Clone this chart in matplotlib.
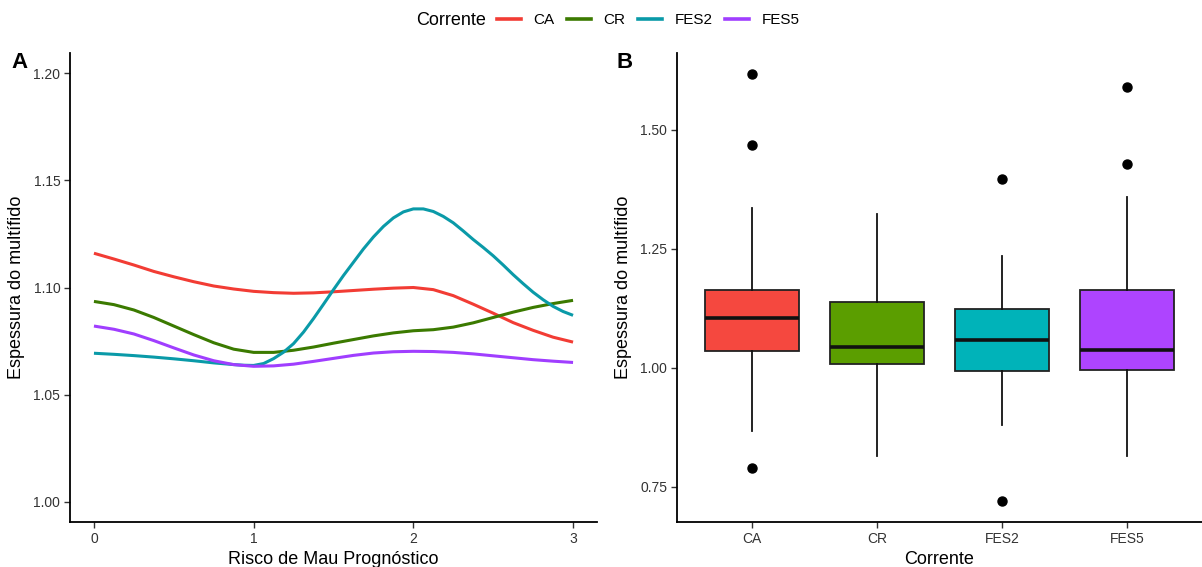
import numpy as np
import matplotlib
matplotlib.use("Agg")
import matplotlib.pyplot as plt
from matplotlib.lines import Line2D

plt.rcParams['font.family'] = ['Liberation Sans', 'DejaVu Sans']

# --- data ---
groups = ["CA", "CR", "FES2", "FES5"]
line_colors = ["#F23C34", "#3B7A00", "#0A9AA8", "#A03EFF"]
box_colors = ["#F5483F", "#5B9E00", "#00B3B9", "#AE44FF"]

risk = [0, 0.125, 0.25, 0.375, 0.5, 0.625, 0.75, 0.875, 1, 1.125, 1.25, 1.375, 1.5,
        1.625, 1.75, 1.875, 2, 2.125, 2.25, 2.375, 2.5, 2.625, 2.75, 2.875, 3]
ca_curve = [1.1160, 1.1133, 1.1105, 1.1075, 1.1050, 1.1027, 1.1007, 1.0993, 1.0982,
            1.0976, 1.0973, 1.0975, 1.0980, 1.0986, 1.0992, 1.0997, 1.1000, 1.0990,
            1.0962, 1.0922, 1.0880, 1.0836, 1.0800, 1.0768, 1.0745]
cr_curve = [1.0935, 1.0920, 1.0895, 1.0860, 1.0820, 1.0780, 1.0742, 1.0712, 1.0697,
            1.0697, 1.0707, 1.0722, 1.0740, 1.0757, 1.0774, 1.0788, 1.0798, 1.0803,
            1.0815, 1.0835, 1.0860, 1.0885, 1.0907, 1.0925, 1.0940]
fes5_curve = [1.0820, 1.0805, 1.0783, 1.0752, 1.0718, 1.0685, 1.0658, 1.0640, 1.0632,
              1.0634, 1.0642, 1.0655, 1.0669, 1.0683, 1.0694, 1.0700, 1.0702, 1.0701,
              1.0697, 1.0690, 1.0681, 1.0672, 1.0663, 1.0656, 1.0650]

# FES2 bends sharply, so it was read at a finer step
risk_fes2 = [0, 0.125, 0.25, 0.375, 0.5, 0.625, 0.75, 0.875, 0.9375, 1, 1.0625, 1.125,
             1.1875, 1.25, 1.3125, 1.375, 1.4375, 1.5, 1.5625, 1.625, 1.6875, 1.75,
             1.8125, 1.875, 1.9375, 2, 2.0625, 2.125, 2.1875, 2.25, 2.3125, 2.375,
             2.4375, 2.5, 2.5625, 2.625, 2.6875, 2.75, 2.8125, 2.875, 2.9375, 3]
fes2_curve = [1.0693, 1.0688, 1.0682, 1.0675, 1.0667, 1.0658, 1.0648, 1.0640, 1.0637,
              1.0636, 1.0645, 1.0668, 1.0698, 1.0738, 1.0792, 1.0855, 1.0922, 1.0990,
              1.1056, 1.1118, 1.1180, 1.1236, 1.1285, 1.1325, 1.1353, 1.1367, 1.1367,
              1.1355, 1.1332, 1.1302, 1.1264, 1.1224, 1.1187, 1.1148, 1.1105, 1.1060,
              1.1018, 1.0978, 1.0943, 1.0912, 1.0888, 1.0870]

xs = [risk, risk, risk_fes2, risk]
curves = [ca_curve, cr_curve, fes2_curve, fes5_curve]

# boxplot summaries
whislo = [0.867, 0.814, 0.879, 0.814]
q1 = [1.036, 1.008, 0.994, 0.996]
med = [1.104, 1.044, 1.059, 1.038]
q3 = [1.164, 1.139, 1.124, 1.164]
whishi = [1.335, 1.322, 1.235, 1.358]
outliers = [[1.616, 1.468, 0.789], [], [1.396, 0.720], [1.590, 1.427]]

W, H = 1202, 567
fig = plt.figure(figsize=(W / 100, H / 100), dpi=100)

tick_col = "#333333"

def style(ax):
      for s in ["top", "right"]:
            ax.spines[s].set_visible(False)
      for s in ["left", "bottom"]:
            ax.spines[s].set_linewidth(1.3)
            ax.spines[s].set_color("black")
      ax.tick_params(length=4, width=1.0, color="#333333", labelsize=10, labelcolor=tick_col, pad=3)

# panel A
axA = fig.add_axes([70 / W, 1 - 522 / H, 527 / W, 469 / H])
for x, c, col, g in zip(xs, curves, line_colors, groups):
      axA.plot(x, c, color=col, lw=2.2, label=g, solid_capstyle="butt", solid_joinstyle="round")
axA.set_xlim(-0.15, 3.15)
axA.set_ylim(0.9905, 1.2095)
axA.set_xticks([0, 1, 2, 3])
axA.set_yticks([1.00, 1.05, 1.10, 1.15, 1.20])
axA.set_yticklabels(["1.00", "1.05", "1.10", "1.15", "1.20"])
axA.set_xlabel("Risco de Mau Prognóstico", fontsize=13, labelpad=4)
axA.set_ylabel("Espessura do multífido", fontsize=13, labelpad=6)
style(axA)

# panel B
axB = fig.add_axes([677 / W, 1 - 522 / H, (W - 677) / W, 469 / H])
stats = []
for i, g in enumerate(groups):
      stats.append(dict(label=g, whislo=whislo[i], q1=q1[i], med=med[i], q3=q3[i],
                        whishi=whishi[i], fliers=outliers[i]))
bp = axB.bxp(stats, positions=[1, 2, 3, 4], widths=0.75, patch_artist=True, showcaps=False,
             boxprops=dict(edgecolor="#222222", linewidth=1.3),
             medianprops=dict(color="#111111", linewidth=2.6),
             whiskerprops=dict(color="#111111", linewidth=1.3),
             flierprops=dict(marker="o", markerfacecolor="black", markeredgecolor="black", markersize=6.5))
for patch, col in zip(bp["boxes"], box_colors):
      patch.set_facecolor(col)
axB.set_xlim(0.4, 4.6)
axB.set_ylim(0.676, 1.661)
axB.set_yticks([0.75, 1.00, 1.25, 1.50])
axB.set_yticklabels(["0.75", "1.00", "1.25", "1.50"])
axB.set_xlabel("Corrente", fontsize=13, labelpad=4)
axB.set_ylabel("Espessura do multífido", fontsize=13, labelpad=6)
style(axB)

# panel letters
fig.text(11 / W, 1 - 62 / H, "A", fontsize=16, fontweight="bold", va="center", ha="left")
fig.text(616 / W, 1 - 62 / H, "B", fontsize=16, fontweight="bold", va="center", ha="left")

# legend on top
fig.text(416 / W, 1 - 20.5 / H, "Corrente", fontsize=13, va="center", ha="left")
handles = [Line2D([0], [0], color=col, lw=2.6) for col in line_colors]
fig.legend(handles, groups, loc="center left", bbox_to_anchor=(497 / W, 1 - 20.5 / H),
           ncol=4, frameon=False, fontsize=11, handlelength=1.6, handletextpad=0.8,
           columnspacing=0.8, borderpad=0, borderaxespad=0)

fig.savefig("out.png", dpi=100)
